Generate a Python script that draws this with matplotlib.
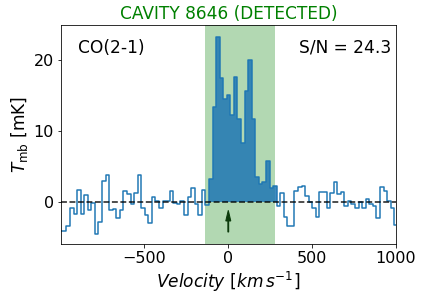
import numpy as np
import matplotlib
matplotlib.use('Agg')
import matplotlib.pyplot as plt

# channel grid (km/s) and measured brightness temperature (mK)
v_first = -997.0
v_last = 1000.0
n_chan = 95
T_mb = [-4.0, -4.0, -3.4, -0.8, -1.6, 1.7, -1.6, 1.0, -1.1, -0.1,
        -4.5, -2.8, 2.9, 3.8, -1.1, -0.9, -2.3, -1.1, 1.5, 1.2,
        -0.2, 1.3, 3.8, -0.8, -1.8, -3.0, 0.7, 0.1, -0.8, 0.1,
        0.1, 1.5, -0.1, -0.2, 0.2, -1.8, 0.7, 2.0, -0.2, -1.8,
        1.7, -0.4,
        3.3, 13.4, 23.2, 17.4, 14.5, 15.1, 12.2, 17.6, 11.7, 8.3,
        15.6, 20.0, 11.7, 3.6, 2.6, 2.8, 5.8, 2.0, 2.3,
        -0.5, 1.3, -2.1, -3.4, -3.3, 1.6, 2.1, 2.3, 0.9, 0.0,
        -0.8, -2.1, 1.4, 1.4, -0.8, 1.3, 2.8, 1.2, 1.4, -0.5,
        0.1, -0.3, -0.8, 0.0, -0.8, 0.4, -0.2, -0.5, -2.3, 2.1,
        1.5, 0.2, -0.8, -3.2]
det_first, det_last = 42, 60   # detected channels
window = (-137, 280)
line_name = 'CO(2-1)'
snr = 24.3
title = 'CAVITY 8646 (DETECTED)'

vel = np.linspace(v_first, v_last, n_chan)
T_mb = np.array(T_mb)
dv = vel[1] - vel[0]
edges = np.append(vel - dv / 2, vel[-1] + dv / 2)

plt.rcParams['font.size'] = 16
fig, ax = plt.subplots(figsize=(424 / 72, 304 / 72), dpi=72)
fig.subplots_adjust(left=0.144, right=0.934, top=0.918, bottom=0.197)

ax.axvspan(window[0], window[1], color='green', alpha=0.3, lw=0)
ax.stairs(T_mb[det_first:det_last + 1], edges[det_first:det_last + 2],
          fill=True, color='C0', alpha=0.85)
ax.step(vel, T_mb, where='mid', color='C0', lw=1.5)
ax.axhline(0, color='k', ls='--', lw=1.6, alpha=0.85)
ax.arrow(0, -4.2, 0, 3.05, width=5, head_width=30, head_length=1.5,
         length_includes_head=True, fc='#0b3a0b', ec='#0b3a0b')

ax.text(0.05, 0.895, line_name, transform=ax.transAxes, va='center', fontsize=17)
ax.text(0.985, 0.895, 'S/N = %.1f' % snr, transform=ax.transAxes, va='center',
        ha='right', fontsize=17)
ax.set_title(title, color='green', fontsize=17)
ax.set_xlim(vel[0], vel[-1])
ax.set_ylim(-5.9, 24.9)
ax.set_xticks([-500, 0, 500, 1000])
ax.set_yticks([0, 10, 20])
ax.set_xlabel(r'$Velocity\ [km\,s^{-1}]$', fontsize=17)
ax.set_ylabel(r'$T_{\rm mb}$ [mK]', fontsize=17)

fig.savefig('out.png', dpi=72)
